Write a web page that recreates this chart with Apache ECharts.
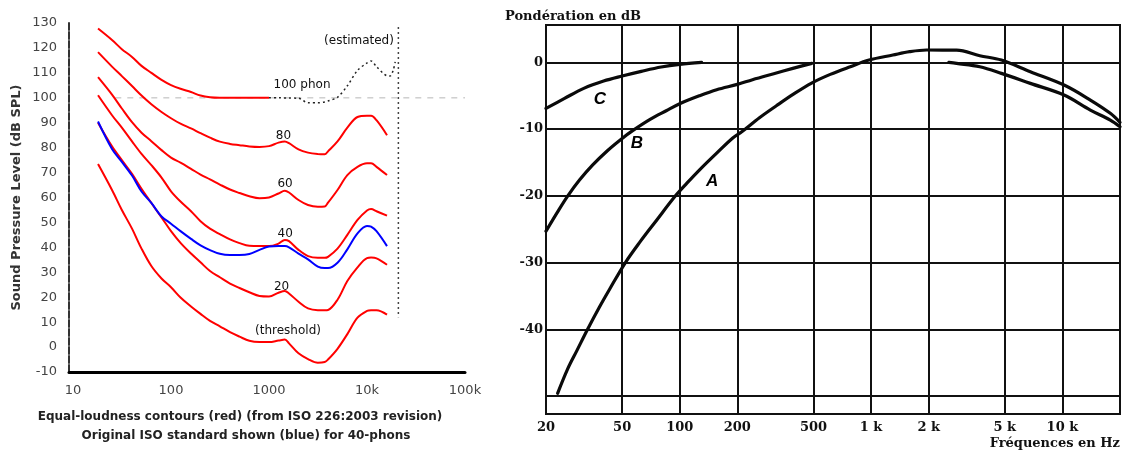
<!DOCTYPE html>
<html>
<head>
<meta charset="utf-8">
<script src="https://cdn.jsdelivr.net/npm/echarts@6/dist/echarts.min.js"></script>
<style>
html,body{margin:0;padding:0;background:#fff;}
#chart{width:1125px;height:452px;}
</style>
</head>
<body>
<div id="chart"></div>
<script>
// ================= LEFT CHART: equal-loudness contours =================
const contourFreq = [18, 25, 31.5, 40, 50, 63, 80, 100, 125, 160, 200, 250, 315, 400, 500, 630, 800, 1000,
  1250, 1450, 1600, 2000, 2500, 3150, 3700, 4000, 5000, 6300, 8000, 10000, 11000, 12500, 16000];
// 100 phon (red part, up to 1 kHz)
const phon100 = [127.8, 123.2, 119.5, 116.4, 112.8, 110, 107.2, 105.1, 103.6, 102.3, 100.9, 100.2, 100, 100, 100, 100, 100, 100];
// 100 phon (estimated, black dotted)
const estFreq = [1000, 1250, 1600, 2000, 2500, 3150, 3700, 4000, 5000, 6300, 8000, 10000, 11000, 12500, 16000, 17200, 18500, 19400];
const estDb   = [100, 100, 99.9, 99.8, 98, 98, 98.3, 98.7, 100.2, 104.8, 111, 114, 114.8, 112.5, 108.8, 108.7, 111, 114.4];
const phon80 = [118.3, 112.5, 108.7, 104.7, 100.9, 97.4, 94.3, 91.8, 89.6, 87.7, 85.8, 84, 82.4, 81.5, 81, 80.5, 80.3, 80.6,
  82, 82.5, 81.8, 79.3, 78, 77.4, 77.3, 78.5, 82.5, 88, 92.3, 92.8, 92.8, 91, 85];
const phon60 = [108.3, 101.3, 95.7, 90.2, 86, 82.6, 79, 76, 74, 71.5, 69.2, 67.3, 65.2, 63.2, 61.8, 60.5, 59.7, 60,
  61.6, 62.7, 62, 59, 57, 56.3, 56.4, 57.9, 63, 69, 72.3, 73.7, 73.7, 72.3, 69];
const phon40 = [101, 93, 88, 82.5, 77.5, 73, 68, 62.5, 58.4, 54.5, 50.5, 47.5, 45.3, 43.2, 41.7, 40.6, 40.5, 40.5,
  41.5, 43, 42.5, 39, 36.5, 35.8, 35.8, 36.2, 39.5, 45, 51, 54.8, 55.4, 54.5, 52.7];
const phon20 = [90, 80.5, 75, 69.5, 63.5, 57.8, 52, 46.5, 41.8, 37.5, 34, 30.5, 28, 25.5, 23.7, 22, 20.5, 20.3,
  21.8, 22.5, 21.5, 18.2, 15.5, 14.8, 14.8, 14.9, 19, 26.5, 32, 35.7, 35.9, 35.6, 33];
const threshold = [73.4, 63, 55, 47.5, 39.5, 32.5, 27.5, 24, 19.9, 16.3, 13.3, 10.5, 8.3, 6, 4.2, 2.5, 2, 2,
  2.6, 3, 1.5, -2.5, -4.8, -6.3, -6, -5, -0.7, 5.2, 11.8, 14.5, 14.8, 14.8, 13];
// original ISO 40-phon curve (blue)
const iso40Original = [90.5, 79.5, 74.3, 68.8, 62.4, 57.8, 52.4, 49.5, 46.5, 43.4, 40.8, 38.9, 37.4, 36.9, 36.9, 37.3, 39, 40.3,
  40.5, 40.5, 40, 37.5, 35.2, 32.3, 31.7, 31.7, 33.8, 39.2, 45.6, 48.6, 48.3, 46.5, 40.5];
// faint 100 dB reference and the dashed vertical marker at the right
const refLineFreq = [27, 100000];
const refLineDb = [100, 100];
const markerFreq = [20900, 20900];
const markerDb = [128.4, 12];
// contour labels: [freq, dB, text]
const contourLabels = [
  [2173, 105.1, '100 phon'],
  [1406, 84.6, '80'],
  [1457, 65.4, '60'],
  [1465, 45.5, '40'],
  [1343, 24.1, '20'],
  [1563, 6.4, '(threshold)'],
  [8285, 122.7, '(estimated)']
];
const leftTitle1 = 'Equal-loudness contours (red) (from ISO 226:2003 revision)';
const leftTitle2 = 'Original ISO standard shown (blue) for 40-phons';
const leftYName = 'Sound Pressure Level (dB SPL)';

// ================= RIGHT CHART: A/B/C weighting =================
const aFreq = [23, 26, 29, 33, 38, 43, 52, 62, 75, 95, 109, 127, 156, 190, 211, 261, 320, 391, 489, 612, 779, 976,
  1300, 1590, 1950, 2800, 3700, 4800, 6800, 10200, 14000, 17800, 20000];
const aDb = [-49.6, -45.9, -43.2, -40, -36.7, -34, -30, -26.9, -23.8, -20, -18.1, -16.1, -13.6, -11.3, -10.4, -8.3, -6.5, -4.8, -3.1, -1.8, -0.65, 0.35,
  1.1, 1.6, 1.85, 1.84, 1.0, 0.34, -1.4, -3.4, -5.65, -7.64, -9.0];
const bFreq = [20, 23, 26, 30, 35, 42, 50, 57, 70, 85, 100, 127, 156, 200, 240, 310, 390, 490];
const bDb = [-25.3, -22.4, -20.0, -17.6, -15.4, -13.2, -11.4, -10.2, -8.55, -7.25, -6.2, -5.0, -4.1, -3.3, -2.6, -1.7, -0.9, -0.15];
const cFreq = [20, 25, 31.5, 40, 50, 63, 80, 100, 130];
const cDb = [-6.9, -5.4, -3.9, -2.8, -2.05, -1.35, -0.7, -0.3, 0];
// shared B/C high-frequency branch
const bcTailFreq = [2550, 2800, 3700, 4800, 6800, 10200, 14000, 17800, 20000];
const bcTailDb = [0, -0.15, -0.66, -1.65, -3.15, -4.9, -7.15, -8.65, -9.65];
const gridFreqs = [20, 50, 100, 200, 500, 1000, 2000, 5000, 10000];
const gridFreqLabels = ['20', '50', '100', '200', '500', '1 k', '2 k', '5 k', '10 k'];
const gridDb = [0, -10, -20, -30, -40, -50];
const gridDbLabels = ['0', '-10', '-20', '-30', '-40', ''];
const curveLetters = [[38.3, -5.5, 'C'], [59.8, -12.2, 'B'], [147.5, -17.8, 'A']];
const rightYName = 'Pondération en dB';
const rightXName = 'Fréquences en Hz';

// ================= build =================
const zip = (fs, vs) => vs.map((v, i) => [fs[i], v]);
const sans = 'DejaVu Sans';
const serif = 'DejaVu Serif';

function redLine(vals, name) {
  return {
    name, type: 'line', xAxisIndex: 0, yAxisIndex: 0, data: zip(contourFreq, vals),
    smooth: 0.35, symbol: 'none', silent: true, z: 3,
    lineStyle: { color: '#ff0000', width: 2 }
  };
}
function blackCurve(fs, vs, name) {
  return {
    name, type: 'line', xAxisIndex: 1, yAxisIndex: 1, data: zip(fs, vs),
    smooth: 0.35, symbol: 'none', silent: true, z: 5,
    lineStyle: { color: '#0a0a0a', width: 3.2, cap: 'round', join: 'round' }
  };
}

const vLines = gridFreqs.map((f, i) => ({
  xAxis: f, name: gridFreqLabels[i],
  label: { show: true, position: 'start', distance: 7, formatter: '{b}',
    fontFamily: serif, fontWeight: 'bold', fontSize: 13, color: '#111' }
}));
const hLines = gridDb.map((d, i) => ({
  yAxis: d, name: gridDbLabels[i],
  label: { show: gridDbLabels[i] !== '', position: 'start', distance: 3, formatter: '{b}',
    fontFamily: serif, fontWeight: 'bold', fontSize: 13, color: '#111' }
}));

const option = {
  animation: false,
  backgroundColor: '#ffffff',
  grid: [
    { left: 69, top: 23, width: 396, height: 349 },
    { left: 546, right: 5, top: 25, bottom: 38, show: true, borderColor: '#111', borderWidth: 2 }
  ],
  xAxis: [
    {
      gridIndex: 0, type: 'log', logBase: 10, min: 9.1, max: 100000,
      axisLine: { show: true, onZero: false, lineStyle: { color: '#000', width: 3 } },
      axisTick: { show: false }, splitLine: { show: false },
      axisLabel: {
        margin: 12, fontFamily: sans, fontSize: 13, color: '#444', showMinLabel: false,
        formatter: v => { const r = Math.round(v); return r >= 10000 ? (r / 1000) + 'k' : String(r); }
      }
    },
    {
      gridIndex: 1, type: 'log', logBase: 10, min: 20, max: 20000,
      axisLine: { show: false, onZero: false }, axisTick: { show: false }, splitLine: { show: false }, axisLabel: { show: false }
    }
  ],
  yAxis: [
    {
      gridIndex: 0, type: 'value', min: -10, max: 130, interval: 10,
      name: leftYName, nameLocation: 'middle', nameGap: 46,
      nameTextStyle: { fontFamily: sans, fontSize: 13, fontWeight: 'bold', color: '#333' },
      axisLine: { show: true, onZero: false, lineStyle: { color: '#333', width: 2, type: [7, 2] } },
      axisTick: { show: false }, splitLine: { show: false },
      axisLabel: { margin: 12, fontFamily: sans, fontSize: 13, color: '#444' }
    },
    {
      gridIndex: 1, type: 'value', min: -52.7, max: 5.6,
      axisLine: { show: false, onZero: false }, axisTick: { show: false }, splitLine: { show: false }, axisLabel: { show: false }
    }
  ],
  graphic: [
    { type: 'text', x: 240, y: 417, style: { text: leftTitle1, textAlign: 'center', textVerticalAlign: 'middle', font: 'bold 12px "DejaVu Sans"', fill: '#222' } },
    { type: 'text', x: 246, y: 436, style: { text: leftTitle2, textAlign: 'center', textVerticalAlign: 'middle', font: 'bold 12px "DejaVu Sans"', fill: '#222' } },
    { type: 'text', x: 505, y: 17, style: { text: rightYName, textAlign: 'left', textVerticalAlign: 'middle', font: 'bold 13px "DejaVu Serif"', fill: '#111' } },
    { type: 'text', x: 1120, y: 444, style: { text: rightXName, textAlign: 'right', textVerticalAlign: 'middle', font: 'bold 13px "DejaVu Serif"', fill: '#111' } }
  ],
  series: [
    {
      name: 'ref100', type: 'line', xAxisIndex: 0, yAxisIndex: 0, data: zip(refLineFreq, refLineDb),
      symbol: 'none', silent: true, z: 1, lineStyle: { color: '#cfcfcf', width: 1.5, type: [6, 6] }
    },
    {
      name: 'marker', type: 'line', xAxisIndex: 0, yAxisIndex: 0, data: zip(markerFreq, markerDb),
      symbol: 'none', silent: true, z: 1, lineStyle: { color: '#444', width: 1.5, type: [2, 3] }
    },
    redLine(threshold, 'threshold'),
    redLine(phon20, '20 phon'),
    {
      name: 'ISO original 40 phon', type: 'line', xAxisIndex: 0, yAxisIndex: 0, data: zip(contourFreq, iso40Original),
      smooth: 0.35, symbol: 'none', silent: true, z: 4, lineStyle: { color: '#0000ff', width: 2 }
    },
    redLine(phon40, '40 phon'),
    redLine(phon60, '60 phon'),
    redLine(phon80, '80 phon'),
    redLine(phon100, '100 phon'),
    {
      name: '100 phon estimated', type: 'line', xAxisIndex: 0, yAxisIndex: 0, data: zip(estFreq, estDb),
      smooth: 0.3, symbol: 'none', silent: true, z: 3, lineStyle: { color: '#222', width: 1.5, type: [2, 3] }
    },
    {
      name: 'contour labels', type: 'scatter', xAxisIndex: 0, yAxisIndex: 0, data: contourLabels,
      symbolSize: 0, silent: true, z: 6, itemStyle: { opacity: 1 },
      label: { show: true, position: 'inside', formatter: p => p.data[2], fontFamily: sans, fontSize: 12, color: '#111', opacity: 1 }
    },
    // right chart
    Object.assign(blackCurve(cFreq, cDb, 'C'), {
      markLine: { symbol: 'none', silent: true, animation: false, z: 2,
        lineStyle: { color: '#111', width: 2, type: 'solid' },
        data: vLines.concat(hLines) }
    }),
    blackCurve(bFreq, bDb, 'B'),
    blackCurve(aFreq, aDb, 'A'),
    blackCurve(bcTailFreq, bcTailDb, 'B/C'),
    {
      name: 'letters', type: 'scatter', xAxisIndex: 1, yAxisIndex: 1, data: curveLetters,
      symbolSize: 0, silent: true, z: 6, itemStyle: { opacity: 1 },
      label: { show: true, position: 'inside', formatter: p => p.data[2], opacity: 1,
        fontFamily: 'Liberation Sans', fontWeight: 'bold', fontStyle: 'italic', fontSize: 17, color: '#000' }
    }
  ]
};

const chart = echarts.init(document.getElementById('chart'), null, { renderer: 'canvas' });
chart.setOption(option);
</script>
</body>
</html>
